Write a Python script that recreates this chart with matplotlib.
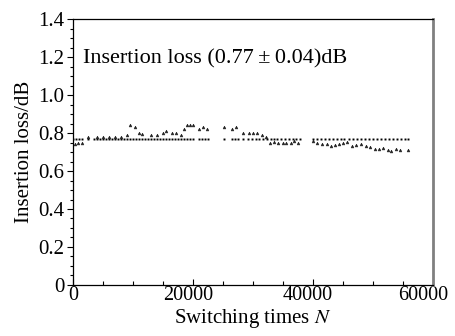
import matplotlib
matplotlib.use("Agg")
import matplotlib.pyplot as plt
from matplotlib.ticker import MultipleLocator, FuncFormatter
from matplotlib.transforms import ScaledTranslation

plt.rcParams['font.family'] = ['Liberation Serif', 'DejaVu Serif']
plt.rcParams['mathtext.fontset'] = 'stix'

# Square series (N, insertion loss dB)
sq_N = [0, 500, 1000, 1500, 2500, 3500, 4000, 4500, 5000, 5500, 6000, 6500, 7000, 7500,
        8000, 8500, 9000, 9500, 10000, 10500, 11000, 11500, 12000, 12500, 13000, 13500,
        14000, 14500, 15000, 15500, 16000, 16500, 17000, 17500, 18000, 18500, 19000,
        19500, 20000, 21000, 21500, 22000, 22500, 25200, 26500, 27000, 27500, 28300,
        29200, 29800, 30500, 31000, 31700, 32300, 33000, 33500, 34000, 34700, 35300,
        36000, 36600, 37200, 37800, 40000, 40700, 41300, 42000, 42600, 43300, 44000,
        44600, 45200, 46000, 46600, 47300, 48000, 48600, 49300, 50000, 50600, 51300,
        52000, 52600, 53300, 54000, 54600, 55300, 55800]
sq_V = [0.77, 0.77, 0.77, 0.77, 0.77, 0.77, 0.77, 0.77, 0.77, 0.77, 0.77, 0.77, 0.77, 0.77,
        0.77, 0.77, 0.77, 0.77, 0.77, 0.77, 0.77, 0.77, 0.77, 0.77, 0.77, 0.77,
        0.77, 0.77, 0.77, 0.77, 0.77, 0.77, 0.77, 0.77, 0.77, 0.77, 0.77,
        0.77, 0.77, 0.77, 0.77, 0.77, 0.77, 0.77, 0.77, 0.77, 0.77, 0.77,
        0.77, 0.77, 0.77, 0.77, 0.77, 0.77, 0.77, 0.77, 0.77, 0.77, 0.77,
        0.77, 0.77, 0.77, 0.77, 0.77, 0.77, 0.77, 0.77, 0.77, 0.77, 0.77,
        0.77, 0.77, 0.77, 0.77, 0.77, 0.77, 0.77, 0.77, 0.77, 0.77, 0.77,
        0.77, 0.77, 0.77, 0.77, 0.77, 0.77, 0.77]

# Triangle series
tr_N = [300, 800, 1500, 2500, 4000, 5000, 6000, 7000, 8000, 9000, 9600, 10300, 11000,
        11500, 13000, 14000, 15000, 15500, 16500, 17200, 18000, 18500, 19000, 19500,
        20000, 21000, 21700, 22300, 25200, 26500, 27200, 28300, 29300, 30000, 30700,
        31500, 32200, 32800, 33500, 34200, 35000, 35500, 36300, 36800, 37500, 40000,
        40700, 41500, 42300, 43000, 43600, 44300, 45000, 45700, 46500, 47200, 48000,
        48800, 49500, 50300, 51000, 51700, 52400, 53000, 53800, 54500, 55800]
tr_V = [0.74, 0.75, 0.75, 0.78, 0.78, 0.78, 0.78, 0.78, 0.78, 0.79, 0.84, 0.83, 0.80,
        0.795, 0.79, 0.79, 0.80, 0.81, 0.80, 0.80, 0.79, 0.82, 0.84, 0.845,
        0.84, 0.82, 0.83, 0.82, 0.83, 0.82, 0.83, 0.80, 0.80, 0.80, 0.80,
        0.79, 0.78, 0.75, 0.755, 0.75, 0.745, 0.75, 0.75, 0.76, 0.75, 0.76,
        0.745, 0.74, 0.74, 0.73, 0.735, 0.74, 0.745, 0.755, 0.73, 0.735, 0.74,
        0.73, 0.725, 0.715, 0.715, 0.72, 0.71, 0.705, 0.715, 0.71, 0.71]

x_ticks = [0, 20000, 40000, 60000]
y_ticks = [0, 0.2, 0.4, 0.6, 0.8, 1.0, 1.2, 1.4]

fig = plt.figure(figsize=(4.55, 3.36), dpi=100)
ax = fig.add_axes([0.160, 0.152, 0.792, 0.791])

ax.plot(sq_N, sq_V, linestyle='none', marker='s', markersize=1.4, color='black',
        markeredgewidth=0)
ax.plot(tr_N, tr_V, linestyle='none', marker='^', markersize=2.0, color='#222222',
        markeredgewidth=0.4)

ax.set_xlim(0, 60000)
ax.set_ylim(0, 1.4)
ax.set_xticks(x_ticks)
ax.set_yticks(y_ticks)
ax.xaxis.set_minor_locator(MultipleLocator(5000))
ax.yaxis.set_minor_locator(MultipleLocator(0.05))
ax.yaxis.set_major_formatter(FuncFormatter(lambda v, p: '0' if abs(v) < 1e-9 else f'{v:.1f}'))
ax.xaxis.set_major_formatter(FuncFormatter(lambda v, p: f'{int(v)}'))

fs = 15
ax.tick_params(axis='x', which='both', direction='in', top=False, labelsize=14.5, pad=1)
ax.tick_params(axis='x', which='major', length=4, width=0.8)
ax.tick_params(axis='x', which='minor', length=3, width=0.8)
ax.tick_params(axis='y', which='both', direction='out', right=False, labelsize=fs, pad=2)
ax.tick_params(axis='y', which='major', length=4, width=0.8)
ax.tick_params(axis='y', which='minor', length=2, width=0.8)

shifts = [0, -5, -5, -10]
for tick, dx in zip(ax.xaxis.get_major_ticks(), shifts):
    tick.label1.set_transform(tick.label1.get_transform() +
                              ScaledTranslation(dx / 100, 0, fig.dpi_scale_trans))

for s in ['left', 'bottom', 'top']:
    ax.spines[s].set_linewidth(0.9)
    ax.spines[s].set_color('black')
ax.spines['right'].set_color('#808080')
ax.spines['right'].set_linewidth(2)

ax.set_xlabel('Switching times $\\it{N}$', fontsize=fs)
ax.xaxis.set_label_coords(0.5, -0.083)
ax.set_ylabel('Insertion loss/dB', fontsize=fs, labelpad=3)

ax.text(0.028, 0.85, 'Insertion loss (0.77\u2009\u00b1\u20090.04)dB', transform=ax.transAxes,
        fontsize=16, ha='left', va='center')

fig.savefig('out.png', dpi=100)
